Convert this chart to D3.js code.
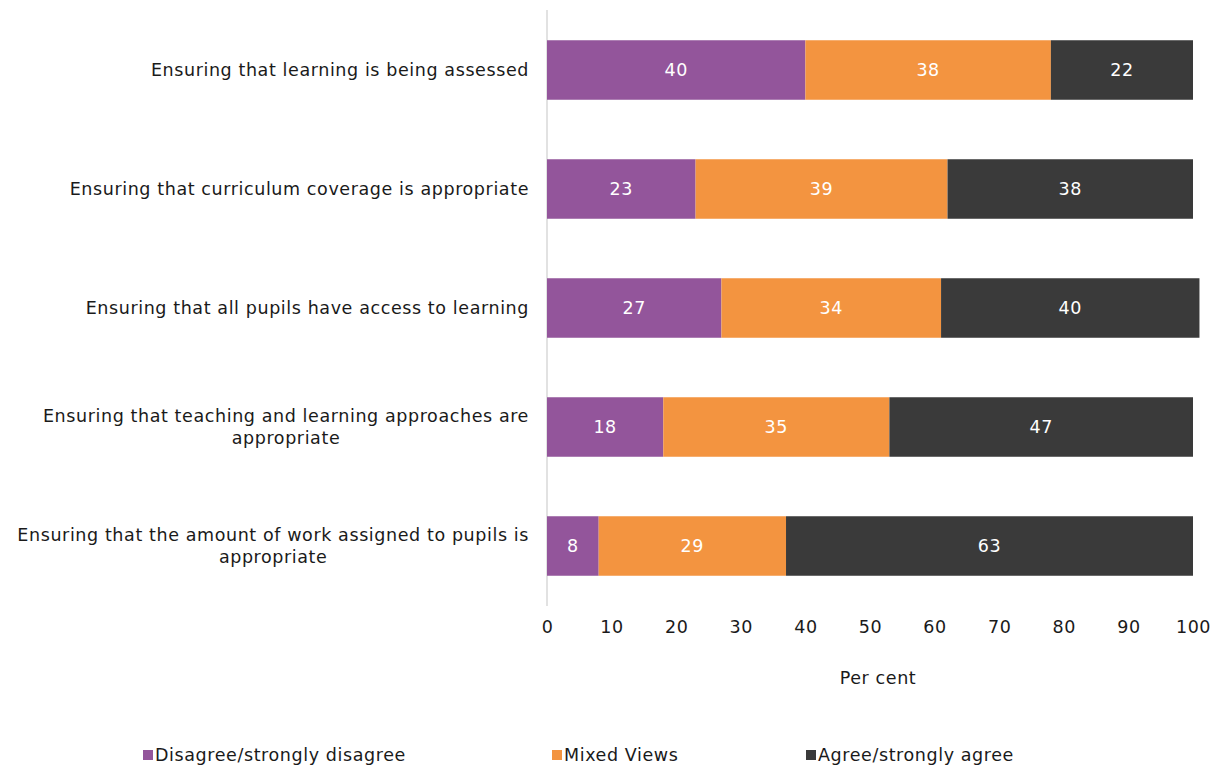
<!DOCTYPE html>
<html>
<head>
<meta charset="utf-8">
<script src="https://cdn.jsdelivr.net/npm/d3@7"></script>
<style>
  body { margin: 0; background: #fff; }
  svg text { font-family: "DejaVu Sans", sans-serif; fill: #1a1a1a; letter-spacing: 0.6px; }
</style>
</head>
<body>
<svg id="chart" width="1217" height="766"></svg>
<script>
// Survey statements (top to bottom)
const categories = [
  ["Ensuring that learning is being assessed"],
  ["Ensuring that curriculum coverage is appropriate"],
  ["Ensuring that all pupils have access to learning"],
  ["Ensuring that teaching and learning approaches are", "appropriate"],
  ["Ensuring that the amount of work assigned to pupils is", "appropriate"]
];
const seriesNames = ["Disagree/strongly disagree", "Mixed Views", "Agree/strongly agree"];
const disagree = [40, 23, 27, 18, 8];
const mixed    = [38, 39, 34, 35, 29];
const agree    = [22, 38, 40, 47, 63];
const xTicks   = [0, 10, 20, 30, 40, 50, 60, 70, 80, 90, 100];
const axisTitle = "Per cent";

const colors = ["#93559b", "#f39440", "#3a3a3a"];
const FS = 17.5;

const svg = d3.select("#chart");
const x = d3.scaleLinear().domain([0, 100]).range([547, 1193]);
const y = d3.scaleBand().domain(d3.range(categories.length))
  .range([10.5, 605.5]).paddingInner(0.5).paddingOuter(0.25);

const rows = categories.map((c, i) => ({ i, Disagree: disagree[i], Mixed: mixed[i], Agree: agree[i] }));
const keys = ["Disagree", "Mixed", "Agree"];
const stacked = d3.stack().keys(keys)(rows);

// vertical baseline
svg.append("line")
  .attr("x1", x(0)).attr("x2", x(0))
  .attr("y1", 10).attr("y2", 606)
  .attr("stroke", "#d9d9d9").attr("stroke-width", 1.5);

// bars
const layer = svg.selectAll("g.series").data(stacked).join("g")
  .attr("class", "series").attr("fill", (d, k) => colors[k]);
layer.selectAll("rect").data(d => d).join("rect")
  .attr("x", d => x(d[0]))
  .attr("width", d => x(d[1]) - x(d[0]))
  .attr("y", d => y(d.data.i))
  .attr("height", y.bandwidth());

// value labels
layer.selectAll("text").data(d => d).join("text")
  .attr("x", d => (x(d[0]) + x(d[1])) / 2)
  .attr("y", d => y(d.data.i) + y.bandwidth() / 2)
  .attr("dy", "0.35em")
  .attr("text-anchor", "middle")
  .attr("font-size", FS)
  .style("fill", "#fff")
  .text(d => d[1] - d[0]);

// category labels: right-aligned block, lines centred within it
const labelRight = 529;
const catG = svg.append("g");
categories.forEach((lines, i) => {
  const cy = y(i) + y.bandwidth() / 2;
  const lh = 22;
  const startY = cy - (lines.length - 1) * lh / 2;
  const t = catG.append("text").attr("font-size", FS).attr("text-anchor", "middle");
  const spans = lines.map((ln, j) => t.append("tspan")
    .attr("y", startY + j * lh).attr("dy", "0.35em").text(ln));
  const maxW = d3.max(spans, s => s.node().getComputedTextLength());
  spans.forEach(s => s.attr("x", labelRight - maxW / 2));
});

// x axis
const xAxis = d3.axisBottom(x).tickValues(xTicks).tickSize(0).tickPadding(0);
const ax = svg.append("g").attr("transform", "translate(0,621)").call(xAxis);
ax.select(".domain").remove();
ax.selectAll("text").attr("font-size", FS).style("fill", "#1a1a1a")
  .attr("font-family", "'DejaVu Sans', sans-serif");

svg.append("text")
  .attr("x", 878).attr("y", 678).attr("dy", "0.35em")
  .attr("text-anchor", "middle").attr("font-size", FS)
  .text(axisTitle);

// legend
const legendX = [143, 552, 806];
const lg = svg.append("g").selectAll("g").data(seriesNames).join("g")
  .attr("transform", (d, k) => `translate(${legendX[k]},755)`);
lg.append("rect").attr("x", 0).attr("y", -5).attr("width", 10).attr("height", 10)
  .attr("fill", (d, k) => colors[k]);
lg.append("text").attr("x", 12).attr("dy", "0.35em").attr("font-size", FS).text(d => d);
</script>
</body>
</html>
